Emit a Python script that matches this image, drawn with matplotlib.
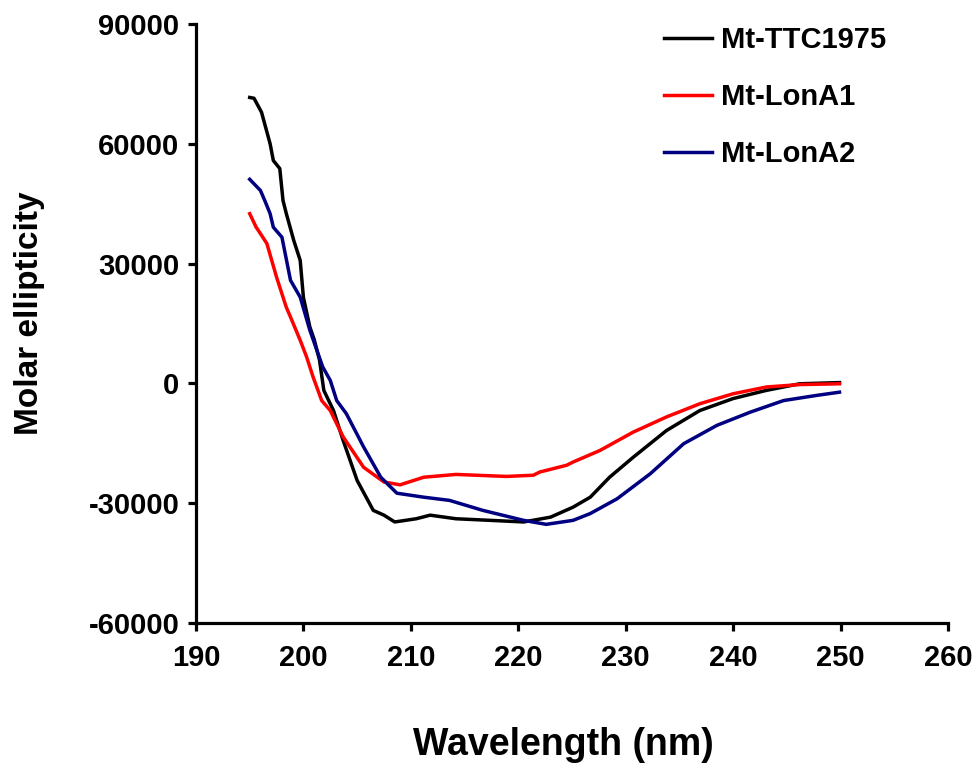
import matplotlib
matplotlib.use("Agg")
import matplotlib.pyplot as plt

plt.rcParams['font.family'] = ['Liberation Sans', 'DejaVu Sans']
plt.rcParams['font.weight'] = 'bold'
plt.rcParams['axes.unicode_minus'] = False

# CD spectra (wavelength nm, molar ellipticity)
ttc_nm = [195.0, 195.4, 196.1, 196.9, 197.2, 197.8, 198.1, 198.4, 199.1, 199.7, 200.0,
          200.6, 201.0, 201.5, 201.9, 202.8, 203.7, 205.0, 206.5, 207.5, 208.5, 209.5,
          210.5, 211.8, 214.2, 217.4, 220.5, 223.0, 225.1, 226.7, 228.5, 230.7, 233.8,
          236.9, 240.0, 243.1, 246.2, 249.9]
ttc_val = [71600, 71400, 67900, 60000, 55800, 53800, 45800, 42600, 35800, 30800, 21500,
           14100, 11000, 5800, -1750, -6800, -14300, -24300, -31800, -33000, -34700, -34300,
           -33900, -33000, -33900, -34300, -34700, -33500, -31000, -28500, -23500, -18500, -11800,
           -6800, -3800, -1750, -100, 200]

lona1_nm = [195.0, 195.6, 196.0, 196.6, 197.5, 198.4, 198.8, 199.7, 200.3, 200.9, 201.7,
            202.5, 203.7, 205.6, 207.5, 209.0, 211.2, 214.2, 218.9, 221.4, 222.0, 224.5,
            225.1, 227.6, 230.7, 233.8, 236.9, 240.0, 243.1, 246.2, 249.9]
lona1_val = [42500, 39100, 37500, 35000, 26600, 19100, 16600, 10800, 6600, 1600, -4300,
             -6800, -13400, -21000, -24700, -25400, -23500, -22800, -23300, -23000, -22200, -20500,
             -19700, -16800, -12200, -8400, -5100, -2600, -900, -300, -100]

lona2_nm = [195.0, 196.0, 196.4, 196.9, 197.2, 198.0, 198.8, 199.7, 200.6, 201.8, 202.5,
            203.1, 204.0, 205.6, 207.2, 208.7, 211.2, 213.6, 216.7, 220.5, 222.6, 225.1,
            226.7, 229.2, 232.3, 235.4, 238.5, 241.6, 244.7, 247.8, 249.9]
lona2_val = [51100, 48300, 45800, 42500, 39100, 36600, 25800, 21600, 13300, 4100, 750,
             -4300, -7600, -15900, -23500, -27500, -28500, -29300, -31800, -34300, -35300, -34300,
             -32600, -28900, -22600, -15100, -10500, -7200, -4300, -3000, -2200]

fig = plt.figure(figsize=(9.78, 7.66), dpi=100)
ax = fig.add_axes([0.2004, 0.1867, 0.7689, 0.782])

ax.plot(ttc_nm, ttc_val, color='black', lw=2.5, label='Mt-TTC1975')
ax.plot(lona1_nm, lona1_val, color='#ff0000', lw=2.5, label='Mt-LonA1')
ax.plot(lona2_nm, lona2_val, color='#000080', lw=2.5, label='Mt-LonA2')

ax.set_xlim(190, 260)
ax.set_ylim(-60000, 90000)
ax.set_xticks(range(190, 261, 10))
ax.set_yticks(range(-60000, 90001, 30000))

for s in ['top', 'right']:
    ax.spines[s].set_visible(False)
for s in ['left', 'bottom']:
    ax.spines[s].set_linewidth(2.3)
ax.tick_params(direction='out', length=6, width=2.3, labelsize=21, pad=6)
ax.tick_params(axis='x', pad=9)

ax.set_xlabel('Wavelength (nm)', fontsize=27, fontweight='bold')
ax.xaxis.set_label_coords(0.488, -0.173)
ax.set_ylabel('Molar ellipticity', fontsize=24, fontweight='bold')
ax.yaxis.set_label_coords(-0.201, 0.517)

ax.legend(loc='upper left', bbox_to_anchor=(0.667, 0.9815), bbox_transform=fig.transFigure,
          frameon=False, fontsize=21, handlelength=1.65, handletextpad=0.3,
          labelspacing=1.0, borderaxespad=0)

fig.savefig('out.png', dpi=100)
